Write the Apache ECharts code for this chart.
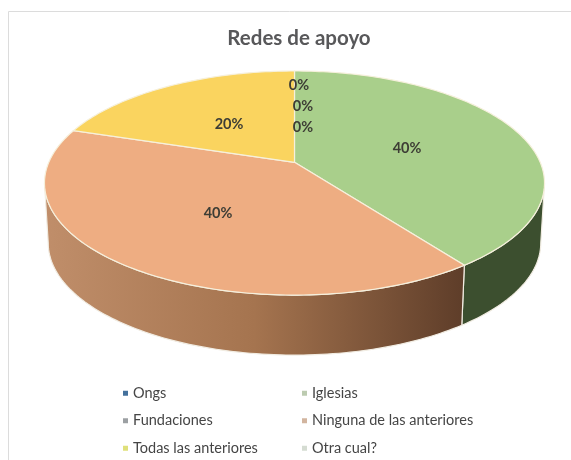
<!DOCTYPE html>
<html><head><meta charset="utf-8">
<style>html,body{margin:0;padding:0;background:#fff}#c{width:571px;height:460px}</style>
<script src="https://cdn.jsdelivr.net/npm/echarts@6/dist/echarts.min.js"></script>
</head><body><div id="c"></div>
<script>
const categories = ['Ongs','Iglesias','Fundaciones','Ninguna de las anteriores','Todas las anteriores','Otra cual?'];
const shares = [0,40,0,40,20,0];
const topColors = ['#44719c','#a9cf8b','#8f9396','#eead82','#fad45f','#c9d6c0'];
const legendColors = ['#44719c','#bccbb0','#9ca0a3','#d2b59f','#dfe07a','#d5dcd2'];
const wallStops = [null,['#3c4f2f','#3c4f2f'],null,['#c08e6a','#a5744f','#5e3d29'],null,null];
const labelAnchors = [[299,85],[407,148],[303,106],[218,213],[229,124],[303,127]];
const legendColumns = [[0,2,4],[1,3,5]];

// perspective disc
const cx=294.5, cy=162.3, R=245.7, B=108.2, K=0.185, DEPTH=60, SHRINK=0.985, eCx=294.5;
const proj=(t,r=1)=>{const s=Math.sin(t),c=Math.cos(t),d=1+K*r*c;return [cx+R*r*s/d, cy-B*r*c/d];};
const low=p=>[eCx+(p[0]-eCx)*SHRINK, p[1]+DEPTH];
const wallA=Math.PI-Math.acos(K), wallB=Math.PI+Math.acos(K);
const total=shares.reduce((a,b)=>a+b,0);
const starts=[]; shares.reduce((a,v,i)=>(starts[i]=a,a+v),0);
const arc=(a,b)=>{const n=Math.max(2,Math.ceil(Math.abs(b-a)/0.02)),o=[];for(let i=0;i<=n;i++)o.push(a+(b-a)*i/n);return o;};

function render(i){ return function(params,api){
  const share=api.value(0), a=starts[i]/total*2*Math.PI, b=a+share/total*2*Math.PI, kids=[];
  if(share>0){
    const wa=Math.max(a,wallA), wb=Math.min(b,wallB);
    if(wb>wa){
      const t=arc(wa,wb).map(x=>proj(x));
      const pts=t.concat(t.slice().reverse().map(low));
      const st=wallStops[i];
      const xs=pts.map(p=>p[0]);
      kids.push({type:'polygon',z2:1,shape:{points:pts},style:{
        fill:{type:'linear',x:Math.min(...xs),y:0,x2:Math.max(...xs),y2:0,global:true,
          colorStops:st.map((c,j)=>({offset:j/(st.length-1),color:c}))},
        stroke:'#f1ece2',lineWidth:1.2}});
    }
    const top=[[cx,cy]].concat(arc(a,b).map(x=>proj(x)));
    kids.push({type:'polygon',z2:2,shape:{points:top},style:{fill:topColors[i],stroke:'#f6f0dc',lineWidth:1.2}});
  }
  kids.push({type:'text',z2:5,style:{x:labelAnchors[i][0],y:labelAnchors[i][1],text:Math.round(share/total*100)+'%',
    fill:'#3d3d35',font:'bold 14.5px Lato',textAlign:'center',textVerticalAlign:'middle'}});
  return {type:'group',children:kids};
};}

const legendBase={orient:'vertical',top:385,padding:0,height:75,itemWidth:5,itemHeight:5,itemGap:11,icon:'rect',selectedMode:false,
  textStyle:{color:'#454545',fontFamily:'Lato',fontSize:14.5,lineHeight:16.5,padding:[0,0,0,0]}};
const legendData=col=>col.map(i=>({name:categories[i],itemStyle:{color:legendColors[i]}}));
const chart=echarts.init(document.getElementById('c'),null,{renderer:'canvas'});
chart.setOption({
  animation:false,backgroundColor:'#ffffff',
  title:{text:'Redes de apoyo',left:294,top:23,textAlign:'center',
    textStyle:{color:'#58585a',fontFamily:'Lato',fontWeight:'bold',fontSize:20.5}},
  legend:[
    Object.assign({},legendBase,{left:123,data:legendData(legendColumns[0])}),
    Object.assign({},legendBase,{left:302,data:legendData(legendColumns[1])})
  ],
  graphic:[
    {type:'polyline',silent:true,shape:{points:[[8.5,460],[8.5,11.5],[571,11.5]]},style:{stroke:'#dcdcdc',fill:null,lineWidth:1}}
  ],
  series:categories.map((name,i)=>({
    type:'custom',name,coordinateSystem:'none',silent:true,
    itemStyle:{color:topColors[i]},
    renderItem:render(i),data:[[shares[i]]],z:2
  }))
});
</script></body></html>
